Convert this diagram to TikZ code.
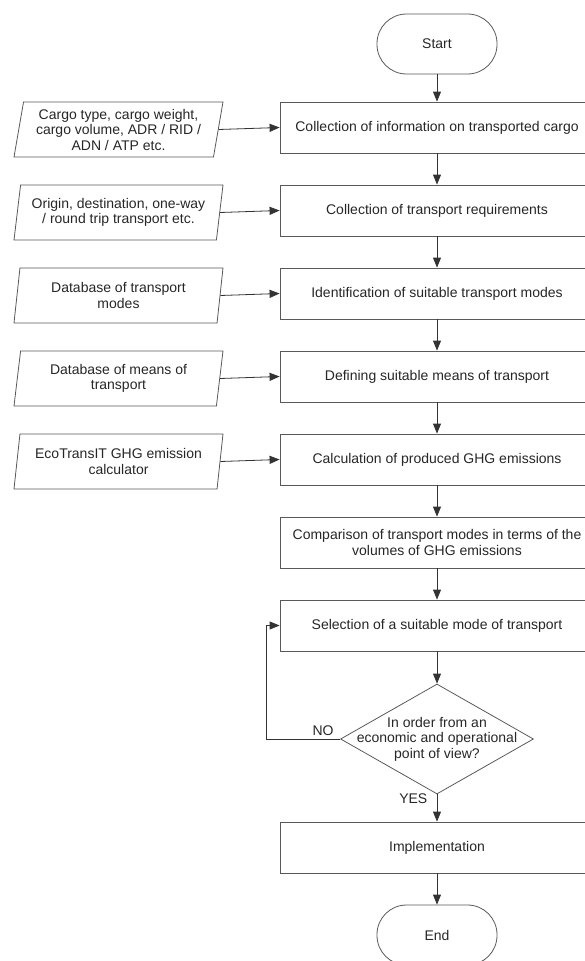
\documentclass[tikz,border=0pt]{standalone}
\usepackage{fontspec}
\setmainfont{Liberation Sans}
\usetikzlibrary{shapes.geometric}
\usetikzlibrary{arrows.meta}

\tikzset{
  stepbox/.style={draw=black!65, line width=0.8pt, minimum width=314pt, minimum height=51pt, inner sep=0pt, align=center},
  inbox/.style={draw=black!65, line width=0.8pt, trapezium, trapezium left angle=77, trapezium right angle=103, trapezium stretches body, minimum width=209pt, minimum height=55pt, inner sep=0pt, align=center},
  term/.style={draw=black!65, line width=0.8pt, rounded corners=29.5pt, minimum width=120pt, minimum height=60pt},
  decide/.style={draw=black!65, line width=0.8pt, diamond, aspect=1.75, minimum width=193pt, minimum height=110pt, inner xsep=-30pt, inner ysep=0pt, align=center},
  flow/.style={-{Triangle[length=10pt,width=8pt]}, line width=0.8pt, draw=black!80}
}

\begin{document}
\begin{tikzpicture}[x=1pt, y=-1pt, font=\fontsize{14}{15.5}\selectfont, text=black!85]
    \useasboundingbox (0,0) rectangle (584,961);
    % main column
    \node[term] (start) at (437,44) {Start};
    \node[stepbox] (cargo) at (437,127.5) {Collection of information on transported cargo};
    \node[stepbox] (req) at (437,210.5) {Collection of transport requirements};
    \node[stepbox] (modes) at (437,293.5) {Identification of suitable transport modes};
    \node[stepbox] (means) at (437,376.5) {Defining suitable means of transport};
    \node[stepbox] (calc) at (437,459.5) {Calculation of produced GHG emissions};
    \node[stepbox] (comp) at (437,542.5) {Comparison of transport modes in terms of the\\volumes of GHG emissions};
    \node[stepbox] (sel) at (437,625.5) {Selection of a suitable mode of transport};
    \node[decide] (dec) at (437,739) {In order from an\\economic and operational\\point of view?};
    \node[stepbox] (impl) at (437,847.5) {Implementation};
    \node[term] (end) at (437,935) {End};
    % inputs
    \node[inbox] (incargo) at (118.5,129.5) {Cargo type, cargo weight,\\cargo volume, ADR / RID /\\ADN / ATP etc.};
    \node[inbox] (inreq) at (118.5,212.5) {Origin, destination, one-way\\/ round trip transport etc.};
    \node[inbox] (inmodes) at (118.5,295.5) {Database of transport\\modes};
    \node[inbox] (inmeans) at (118.5,378.5) {Database of means of\\transport};
    \node[inbox] (incalc) at (118.5,461.5) {EcoTransIT GHG emission\\calculator};
    % arrows
    \foreach \a/\b in {start/cargo, cargo/req, req/modes, modes/means, means/calc, calc/comp, comp/sel, sel/dec, impl/end}
        {\draw[flow] (\a) -- (\b);}
    \foreach \p/\b in {incargo/cargo, inreq/req, inmodes/modes, inmeans/means, incalc/calc}
        {\draw[flow] (\p.right side) -- (\b.west);}
    \draw[flow] (dec.south) -- node[pos=0.15, left=6pt] {YES} (impl.north);
    \draw[flow] (dec.west) -- node[pos=0.23, above] {NO} ++(-74,0) |- (sel.west);
\end{tikzpicture}
\end{document}
